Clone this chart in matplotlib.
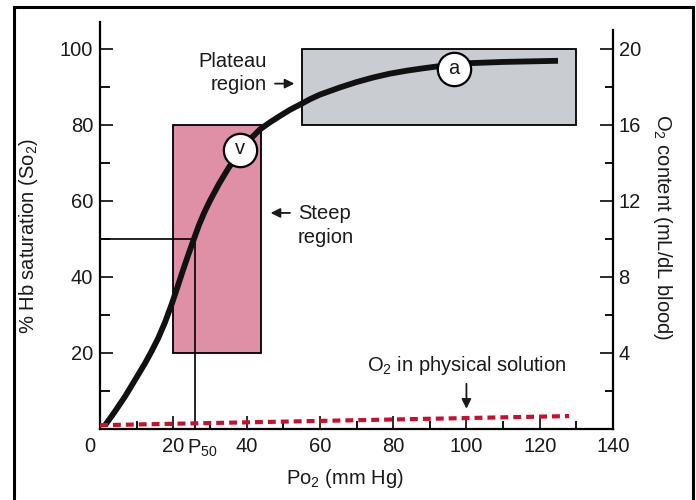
import matplotlib
matplotlib.use("Agg")
import matplotlib.pyplot as plt
from matplotlib.patches import Rectangle
from matplotlib.ticker import MultipleLocator

plt.rcParams['font.family'] = ['Liberation Sans', 'DejaVu Sans']
plt.rcParams['mathtext.fontset'] = 'custom'
plt.rcParams['mathtext.rm'] = 'Liberation Sans'
plt.rcParams['mathtext.default'] = 'regular'
plt.rcParams['font.size'] = 14.5

# Кривая диссоциации оксигемоглобина
po2 = [1.4, 4, 6.8, 9.5, 12.3, 14, 15.9, 17.8, 19.6, 21.2, 22.7, 24.2, 25.5,
       27, 28.5, 30, 32.5, 35, 38, 41, 43.7, 46.5, 49.1, 51.8, 54.6, 57.3, 60,
       65.5, 70, 74.5, 79, 83.7, 88, 91.9, 96.5, 101.4, 110, 125]
sat = [1, 4.5, 8.5, 12.8, 17.3, 20.3, 23.9, 28.2, 32.9, 37.5, 41.9, 46.1,
       49.6, 53.6, 57, 60, 64.5, 68.5, 72.8, 76.2, 78.8, 80.7, 82.3, 83.9,
       85.3, 86.7, 87.9, 89.8, 91.2, 92.4, 93.4, 94.2, 94.8, 95.3, 95.8, 96.2,
       96.5, 96.8]

# O2 в физическом растворе (в % шкалы насыщения)
dissolved_po2 = [0, 128]
dissolved_sat = [1.0, 3.4]

# точки v и a
point_labels = ['v', 'a']
point_po2 = [38.2, 96.6]
point_sat = [73.4, 94.6]

# области
steep_box = (20, 44, 20, 80)       # x0, x1, y0, y1
plateau_box = (55, 130, 80, 100)
p50 = 26

x_ticks = [0, 20, 40, 60, 80, 100, 120, 140]
y_ticks = [20, 40, 60, 80, 100]
o2_ticks = [4, 8, 12, 16, 20]

ink = '#1a1a1a'

fig = plt.figure(figsize=(6.96, 5.0), dpi=100)
ax = fig.add_axes([100 / 696, 71 / 500, 513 / 696, 407 / 500])
ax.set_xlim(0, 140)
ax.set_ylim(0, 107)

# прямоугольники областей
x0, x1, y0, y1 = steep_box
ax.add_patch(Rectangle((x0, y0), x1 - x0, y1 - y0, facecolor='#df8fa6',
                       edgecolor='black', lw=1.3, zorder=1))
x0, x1, y0, y1 = plateau_box
ax.add_patch(Rectangle((x0, y0), x1 - x0, y1 - y0, facecolor='#c9cdd2',
                       edgecolor='black', lw=1.3, zorder=1))

# линии P50
ax.plot([0, p50], [50, 50], color='black', lw=1.2, zorder=2)
ax.plot([p50, p50], [50, 0], color='black', lw=1.2, zorder=2)

# основная кривая
ax.plot(po2, sat, color='#111111', lw=4.2, solid_capstyle='butt',
        solid_joinstyle='round', zorder=3)

# растворённый O2
ax.plot(dissolved_po2, dissolved_sat, color='#c8102e', lw=3,
        dashes=(1.9, 1.2), zorder=4)

# кружки v и a
for lab, px, py in zip(point_labels, point_po2, point_sat):
    ax.plot(px, py, 'o', ms=24, mfc='white', mec='black', mew=1.6, zorder=5)
    ax.text(px, py + 0.3, lab, ha='center', va='center', color=ink,
            fontsize=14.5, zorder=6)

# подписи
ax.text(45.6, 96.6, 'Plateau', ha='right', va='center', color=ink)
ax.text(45.4, 90.5, 'region', ha='right', va='center', color=ink)
ax.annotate('', xy=(53.8, 90.8), xytext=(47, 90.8),
            arrowprops=dict(arrowstyle='-|>', color=ink, lw=1.3,
                            mutation_scale=14))
ax.text(54.2, 56.6, 'Steep', ha='left', va='center', color=ink)
ax.text(53.8, 50.3, 'region', ha='left', va='center', color=ink)
ax.annotate('', xy=(45.8, 56.8), xytext=(52.6, 56.8),
            arrowprops=dict(arrowstyle='-|>', color=ink, lw=1.3,
                            mutation_scale=14))
ax.text(100, 16.6, 'O$_2$ in physical solution', ha='center', va='center',
        color=ink)
ax.annotate('', xy=(100, 4.6), xytext=(100, 12.6),
            arrowprops=dict(arrowstyle='-|>', color=ink, lw=1.3,
                            mutation_scale=14))

# оси
for side in ['top', 'right']:
    ax.spines[side].set_visible(False)
ax.spines['left'].set_linewidth(1.6)
ax.spines['bottom'].set_linewidth(1.6)
ax.spines['left'].set_bounds(0, 107)

ax.set_xticks(x_ticks)
ax.set_xticklabels([''] + [str(v) for v in x_ticks[1:]])
ax.xaxis.set_minor_locator(MultipleLocator(10))
ax.set_yticks(y_ticks)
ax.yaxis.set_minor_locator(MultipleLocator(10))
ax.tick_params(axis='x', which='major', direction='in', length=9.5, width=1.3,
               pad=6, colors=ink)
ax.tick_params(axis='x', which='minor', direction='in', length=6, width=1.3)
ax.tick_params(axis='y', which='major', direction='in', length=9.5, width=1.3,
               pad=5, colors=ink)
ax.tick_params(axis='y', which='minor', direction='in', length=7, width=1.3)

# «0» и P50 в строке подписей оси x
for lab, xv in [('0', -2.8), ('P$_{50}$', 28)]:
    ax.annotate(lab, xy=(xv, 0), xycoords=('data', 'axes fraction'),
                xytext=(0, -6), textcoords='offset points', ha='center',
                va='top', color=ink)

ax.set_xlabel('Po$_2$ (mm Hg)', color=ink)
ax.xaxis.set_label_coords(0.478, -0.093)
ax.set_ylabel('% Hb saturation (So$_2$)', color=ink)
ax.yaxis.set_label_coords(-0.117, 0.474)

# правая ось: содержание O2
ax2 = ax.twinx()
ax2.set_ylim(0, 107 / 5)
for side in ['top', 'left', 'bottom']:
    ax2.spines[side].set_visible(False)
ax2.spines['right'].set_linewidth(1.6)
ax2.spines['right'].set_bounds(0, 21)
ax2.set_yticks(o2_ticks)
ax2.yaxis.set_minor_locator(MultipleLocator(2))
ax2.tick_params(axis='y', which='major', direction='in', length=9.5, width=1.3,
                pad=4, colors=ink)
ax2.tick_params(axis='y', which='minor', direction='in', length=6, width=1.3)
ax2.set_ylabel('O$_2$ content (mL/dL blood)', rotation=270, color=ink)
ax2.yaxis.set_label_coords(1.118, 0.496)

# рамка вокруг рисунка
fig.patches.append(Rectangle((14 / 696, -0.05), 679 / 696, 1.036,
                             transform=fig.transFigure, fill=False,
                             edgecolor='black', lw=2.2, clip_on=False))

fig.savefig('out.png', dpi=100)
